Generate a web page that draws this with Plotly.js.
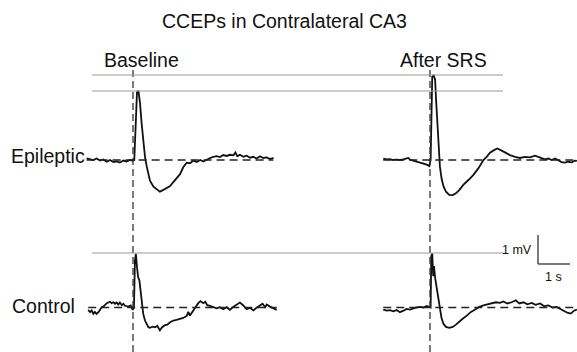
<!DOCTYPE html>
<html>
<head>
<meta charset="utf-8">
<script src="https://cdn.plot.ly/plotly-3.0.1.min.js"></script>
<style>html,body{margin:0;padding:0;background:#fff}#chart{width:577px;height:352px}</style>
</head>
<body>
<div id="chart"></div>
<script>
// Time (s, relative to stimulus) and voltage (mV, relative to baseline)
const epiBaseT = [-1.45,-1.34,-1.24,-1.14,-1.03,-0.93,-0.82,-0.72,-0.61,-0.51,-0.41,-0.30,-0.20,-0.09,-0.01,0.04,0.09,0.125,0.17,0.22,0.27,0.32,0.375,0.43,0.48,0.53,0.64,0.74,0.84,0.95,1.05,1.16,1.26,1.36,1.47,1.57,1.68,1.78,1.89,1.99,2.10,2.20,2.30,2.41,2.51,2.61,2.72,2.82,2.93,3.03,3.14,3.20,3.26,3.34,3.45,3.55,3.66,3.76,3.86,3.97,4.07,4.18,4.28,4.39];
const epiBaseV = [0.06,0.02,0,0.05,-0.02,0.02,-0.06,0,-0.07,-0.05,-0.09,-0.02,-0.05,0,-0.02,0,1.72,2.34,2.38,1.95,1.26,0.69,0.11,-0.23,-0.52,-0.71,-0.92,-1.01,-1.09,-1.03,-0.97,-0.90,-0.76,-0.63,-0.49,-0.25,-0.09,-0.11,-0.02,-0.07,0,-0.05,0.02,0.07,0.11,0.13,0.10,0.17,0.14,0.18,0.16,0.26,0.13,0.18,0.11,0.15,0.08,0.11,0.05,0.13,0.07,0.09,0.03,0.07];

const epiSrsT = [-1.46,-1.35,-1.25,-1.15,-1.04,-0.94,-0.83,-0.73,-0.68,-0.625,-0.52,-0.42,-0.31,-0.21,-0.10,-0.02,0.02,0.04,0.07,0.115,0.16,0.19,0.23,0.27,0.31,0.36,0.42,0.50,0.60,0.71,0.81,0.92,1.04,1.20,1.35,1.51,1.67,1.77,1.875,2.0,2.10,2.21,2.34,2.5,2.66,2.81,2.97,3.125,3.28,3.39,3.49,3.59,3.70,3.80,3.91,4.01,4.11,4.22,4.32,4.43,4.53,4.59];
const epiSrsV = [0.05,0.02,0.03,0,0.01,0,0.02,0.05,0.07,0.01,-0.02,-0.06,-0.09,-0.11,-0.16,-0.21,0,1.15,2.87,2.93,2.76,2.07,1.15,0.34,-0.23,-0.63,-0.90,-1.09,-1.20,-1.21,-1.15,-1.03,-0.86,-0.69,-0.52,-0.29,0,0.11,0.25,0.34,0.40,0.34,0.26,0.17,0.11,0.07,0.11,0.09,0.15,0.10,0.07,0.02,0.05,0,0.05,-0.02,-0.07,-0.09,-0.06,-0.08,-0.02,-0.03];

const ctlBaseT = [-1.40,-1.34,-1.29,-1.24,-1.19,-1.14,-1.08,-1.03,-0.98,-0.93,-0.875,-0.82,-0.72,-0.67,-0.61,-0.56,-0.51,-0.46,-0.41,-0.35,-0.30,-0.25,-0.15,-0.07,-0.01,0.03,0.06,0.09,0.125,0.16,0.20,0.24,0.28,0.32,0.375,0.43,0.48,0.53,0.61,0.69,0.76,0.84,0.91,1.0,1.07,1.16,1.26,1.36,1.47,1.57,1.68,1.73,1.78,1.89,1.97,2.04,2.11,2.19,2.26,2.32,2.41,2.51,2.61,2.72,2.82,2.93,3.03,3.14,3.24,3.34,3.45,3.55,3.66,3.76,3.86,3.97,4.05,4.13,4.18,4.28,4.39,4.49];
const ctlBaseV = [-0.08,-0.16,-0.10,-0.22,-0.15,-0.22,-0.16,-0.06,0.01,0.03,0.10,0.15,0.20,0.15,0.18,0.13,0.17,0.10,0.17,0.08,0.13,0.06,0.03,0.07,-0.08,-0.01,1.62,1.85,1.39,1.05,0.93,0.53,0.13,-0.22,-0.45,-0.60,-0.68,-0.70,-0.66,-0.68,-0.63,-0.79,-0.68,-0.61,-0.59,-0.51,-0.45,-0.43,-0.39,-0.36,-0.29,-0.15,-0.28,-0.10,0.07,0.15,0.22,0.15,0.20,0.08,0.06,0.01,-0.03,0.01,-0.06,0.01,-0.08,0.03,0.10,0.17,0.07,-0.06,-0.01,-0.10,-0.01,0.06,0.13,0.01,0.10,0.03,-0.03,-0.08];

const ctlSrsT = [-1.46,-1.35,-1.25,-1.15,-1.04,-0.94,-0.83,-0.73,-0.625,-0.52,-0.42,-0.31,-0.21,-0.10,-0.02,0.02,0.04,0.07,0.10,0.125,0.16,0.21,0.26,0.31,0.36,0.42,0.50,0.60,0.71,0.81,0.92,1.02,1.15,1.27,1.41,1.54,1.67,1.79,1.93,2.06,2.19,2.29,2.42,2.55,2.68,2.79,2.92,3.04,3.18,3.30,3.44,3.56,3.70,3.83,3.96,4.08,4.19,4.29,4.40,4.50,4.59];
const ctlSrsV = [-0.07,-0.11,-0.09,-0.13,-0.09,-0.16,-0.11,-0.05,-0.07,-0.02,0,0.02,0,0.05,0,0,1.77,1.86,1.08,1.43,1.02,0.68,0.28,-0.07,-0.36,-0.56,-0.67,-0.70,-0.67,-0.59,-0.47,-0.39,-0.28,-0.16,-0.07,0.02,0.07,0.11,0.14,0.18,0.16,0.21,0.14,0.18,0.25,0.14,0.18,0.11,0.16,0.09,0.14,0.05,0.07,0,0.02,-0.05,-0.11,-0.18,-0.21,-0.11,-0.07];

const panelLabels = ["Baseline", "After SRS"];
const rowLabels = ["Epileptic", "Control"];
const chartTitle = "CCEPs in Contralateral CA3";
const refLevelsTop = [2.93, 2.38];   // mV, peak reference lines (epileptic row)
const refLevelsBottom = [1.88];      // mV, peak reference line (control row)
const scaleBar = {t: 1, v: 1, tUnit: "1 s", vUnit: "1 mV"};

const FONT = "Liberation Sans, Arial, sans-serif";
const trace = (x, y, xa, ya) => ({x, y, xaxis: xa, yaxis: ya, type: 'scatter', mode: 'lines',
  line: {color: '#111', width: 1.8}, hoverinfo: 'skip'});

const data = [
  trace(epiBaseT, epiBaseV, 'x', 'y'),
  trace(epiSrsT, epiSrsV, 'x2', 'y2'),
  trace(ctlBaseT, ctlBaseV, 'x3', 'y3'),
  trace(ctlSrsT, ctlSrsV, 'x4', 'y4')
];

const W = 577, H = 352;
const px = v => v / W, py = v => 1 - v / H;
const hidden = {visible: false, fixedrange: true};
const leftDom = [px(80), px(280)], rightDom = [px(380), 1];
const leftRange = [(80 - 133) / 32, (280 - 133) / 32];
const rightRange = [(380 - 430) / 32, (577 - 430) / 32];
const topDom = [py(215), py(65)], botDom = [0, py(222)];
const topRange = [(160 - 215) / 29, (160 - 65) / 29];
const botRange = [(307.5 - 352) / 29, (307.5 - 222) / 29];

const shapes = [];
// stimulus lines
[['x', 0], ['x2', 0]].forEach(([xr, t]) => shapes.push({type: 'line', xref: xr, yref: 'paper',
  x0: t, x1: t, y0: 0, y1: py(70), line: {color: '#333', width: 1.3, dash: '7px,4px'}}));
// baselines
[['x','y',epiBaseT],['x2','y2',epiSrsT],['x3','y3',ctlBaseT],['x4','y4',ctlSrsT]].forEach(([xr, yr, t]) =>
  shapes.push({type: 'line', xref: xr, yref: yr, x0: t[0], x1: t[t.length - 1], y0: 0, y1: 0,
    line: {color: '#222', width: 1.5, dash: '8px,5px'}}));
// reference lines
refLevelsTop.forEach(v => shapes.push({type: 'line', xref: 'paper', yref: 'y', x0: px(92), x1: px(503),
  y0: v, y1: v, line: {color: '#999', width: 1.1}}));
refLevelsBottom.forEach(v => shapes.push({type: 'line', xref: 'paper', yref: 'y3', x0: px(92), x1: px(503),
  y0: v, y1: v, line: {color: '#999', width: 1.1}}));
// scale bar
const sbT = 3.375, sbV = 1.5;
shapes.push({type: 'line', xref: 'x4', yref: 'y4', x0: sbT, x1: sbT, y0: sbV, y1: sbV + scaleBar.v, line: {color: '#333', width: 1.3}});
shapes.push({type: 'line', xref: 'x4', yref: 'y4', x0: sbT, x1: sbT + scaleBar.t, y0: sbV, y1: sbV, line: {color: '#333', width: 1.3}});

const ann = (text, x, y, size, xanchor) => ({text, x, y, xref: 'paper', yref: 'paper', showarrow: false,
  xanchor: xanchor || 'center', yanchor: 'middle', font: {family: FONT, size, color: '#111'}, borderpad: 0});

const annotations = [
  ann(chartTitle, px(284), py(21), 19.5),
  ann(panelLabels[0], px(141), py(60), 19.5),
  ann(panelLabels[1], px(443), py(60), 19.5),
  ann(rowLabels[0], px(10), py(156), 19.5, 'left'),
  ann(rowLabels[1], px(11), py(306), 19.5, 'left'),
  ann(scaleBar.vUnit, px(501), py(250), 12.5, 'left'),
  ann(scaleBar.tUnit, px(553), py(277), 12.5)
];

const layout = {
  width: W, height: H, margin: {l: 0, r: 0, t: 0, b: 0},
  paper_bgcolor: '#fff', plot_bgcolor: 'rgba(0,0,0,0)', showlegend: false,
  xaxis: Object.assign({domain: leftDom, range: leftRange, anchor: 'y'}, hidden),
  yaxis: Object.assign({domain: topDom, range: topRange, anchor: 'x'}, hidden),
  xaxis2: Object.assign({domain: rightDom, range: rightRange, anchor: 'y2'}, hidden),
  yaxis2: Object.assign({domain: topDom, range: topRange, anchor: 'x2'}, hidden),
  xaxis3: Object.assign({domain: leftDom, range: leftRange, anchor: 'y3'}, hidden),
  yaxis3: Object.assign({domain: botDom, range: botRange, anchor: 'x3'}, hidden),
  xaxis4: Object.assign({domain: rightDom, range: rightRange, anchor: 'y4'}, hidden),
  yaxis4: Object.assign({domain: botDom, range: botRange, anchor: 'x4'}, hidden),
  shapes, annotations
};

Plotly.newPlot('chart', data, layout, {staticPlot: true, displayModeBar: false});
</script>
</body>
</html>
